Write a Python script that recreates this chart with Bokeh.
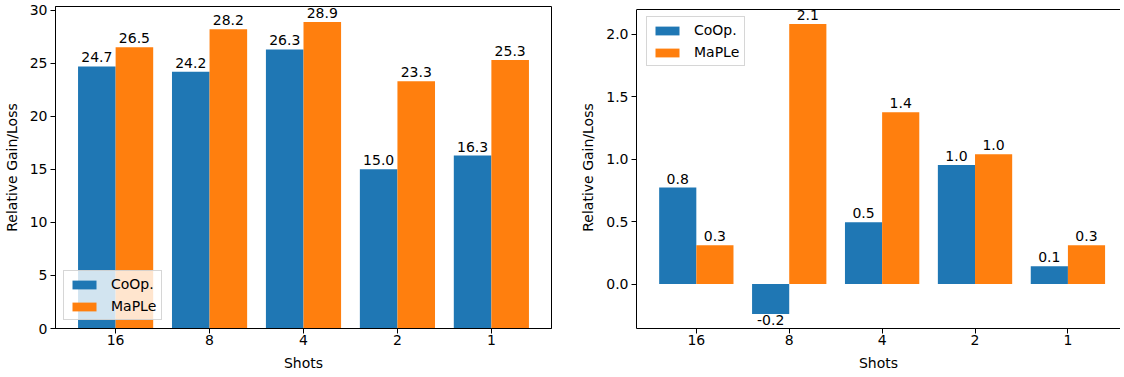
from bokeh.plotting import figure
from bokeh.layouts import row
from bokeh.models import (ColumnDataSource, Range1d, FixedTicker, Legend, LegendItem,
                          Span, PrintfTickFormatter, LabelSet)
from bokeh.embed import file_html
from bokeh.resources import INLINE
from bokeh.core.properties import value

# ---- data ----
shots = ["16", "8", "4", "2", "1"]
series_names = ["CoOp.", "MaPLe"]
left_coop = [24.7, 24.2, 26.3, 15.0, 16.3]
left_maple = [26.5, 28.2, 28.9, 23.3, 25.3]
right_coop = [0.772, -0.24, 0.494, 0.953, 0.142]
right_maple = [0.31, 2.08, 1.375, 1.039, 0.31]
left_yticks = [0, 5, 10, 15, 20, 25, 30]
right_yticks = [0.0, 0.5, 1.0, 1.5, 2.0]

colors = ["#1f77b4", "#ff7f0e"]
FONT = "DejaVu Sans"
FS = "14px"
BAR_W = 0.4


def make_fig(coop, maple, x_rng, y_rng, axes_top, yticks, yfmt, legend_loc, legend_margin,
             frame_w, frame_h, b_left, b_right, b_top, b_bottom, full_outline):
    p = figure(output_backend="svg", toolbar_location=None,
               frame_width=frame_w, frame_height=frame_h,
               min_border_left=b_left, min_border_right=b_right,
               min_border_top=b_top, min_border_bottom=b_bottom,
               x_range=Range1d(*x_rng), y_range=Range1d(*y_rng))
    p.xgrid.visible = False
    p.ygrid.visible = False
    p.background_fill_color = "white"
    p.border_fill_color = "white"
    if full_outline:
        p.outline_line_color = "black"
        p.outline_line_width = 1
    else:
        p.outline_line_color = None
        p.add_layout(Span(location=axes_top, dimension="width",
                          line_color="black", line_width=1))
        p.yaxis.bounds = (y_rng[0], axes_top)

    renderers = []
    for k, (vals, col) in enumerate(zip([coop, maple], colors)):
        off = -BAR_W / 2 if k == 0 else BAR_W / 2
        xs = [i + off for i in range(len(vals))]
        src = ColumnDataSource(dict(x=xs, top=vals))
        r = p.vbar(x="x", top="top", bottom=0, width=BAR_W, source=src,
                   fill_color=col, line_color=None)
        renderers.append(r)
        pos = [(x, v) for x, v in zip(xs, vals) if v >= 0]
        neg = [(x, v) for x, v in zip(xs, vals) if v < 0]
        for group, base, yoff in ((pos, "alphabetic", 4), (neg, "top", -1)):
            if not group:
                continue
            lsrc = ColumnDataSource(dict(x=[a for a, _ in group], y=[b for _, b in group],
                                         t=[f"{b:.1f}" for _, b in group]))
            p.add_layout(LabelSet(x="x", y="y", text="t", source=lsrc,
                                  text_align="center", text_baseline=base, y_offset=yoff,
                                  text_font=value(FONT), text_font_size=value(FS),
                                  text_color="black"))

    for ax in (p.xaxis[0], p.yaxis[0]):
        ax.axis_line_color = "black"
        ax.axis_line_width = 1
        ax.major_tick_line_color = "black"
        ax.major_tick_in = 0
        ax.major_tick_out = 5
        ax.minor_tick_line_color = None
        ax.major_label_text_font = FONT
        ax.major_label_text_font_size = FS
        ax.major_label_text_color = "black"
        ax.axis_label_text_font = FONT
        ax.axis_label_text_font_size = FS
        ax.axis_label_text_font_style = "normal"
        ax.axis_label_text_color = "black"

    p.xaxis.ticker = FixedTicker(ticks=list(range(len(shots))))
    p.xaxis.major_label_overrides = {i: s for i, s in enumerate(shots)}
    p.xaxis.axis_label = "Shots"
    p.xaxis.major_label_standoff = 1
    p.xaxis.axis_label_standoff = 7
    p.yaxis.ticker = FixedTicker(ticks=yticks)
    p.yaxis.formatter = PrintfTickFormatter(format=yfmt)
    p.yaxis.axis_label = "Relative Gain/Loss"
    p.yaxis.major_label_standoff = 3
    p.yaxis.axis_label_standoff = 7

    legend = Legend(items=[LegendItem(label=n, renderers=[r])
                           for n, r in zip(series_names, renderers)],
                    location=legend_loc, margin=legend_margin,
                    label_text_font=FONT, label_text_font_size=FS,
                    label_text_color="black",
                    glyph_width=30, glyph_height=11, label_standoff=12,
                    label_height=16, spacing=6, padding=5,
                    background_fill_color="white", background_fill_alpha=0.8,
                    border_line_color="#cccccc", border_line_alpha=0.8,
                    border_line_width=1)
    p.add_layout(legend)
    return p


p1 = make_fig(left_coop, left_maple, (-0.64, 4.64), (0, 30.35), 30.35, left_yticks, "%d",
              "bottom_left", 8, 496, 322, 51, 5, 14, 40, True)
p2 = make_fig(right_coop, right_maple, (-0.644, 4.566), (-0.356, 2.22), 2.196, right_yticks, "%.1f",
              "top_left", 10, 484, 322, 80, 0, 14, 40, False)

layout = row(p1, p2, margin=(-8, 0, 0, 0))

open("out.html", "w").write(file_html(layout, INLINE))
